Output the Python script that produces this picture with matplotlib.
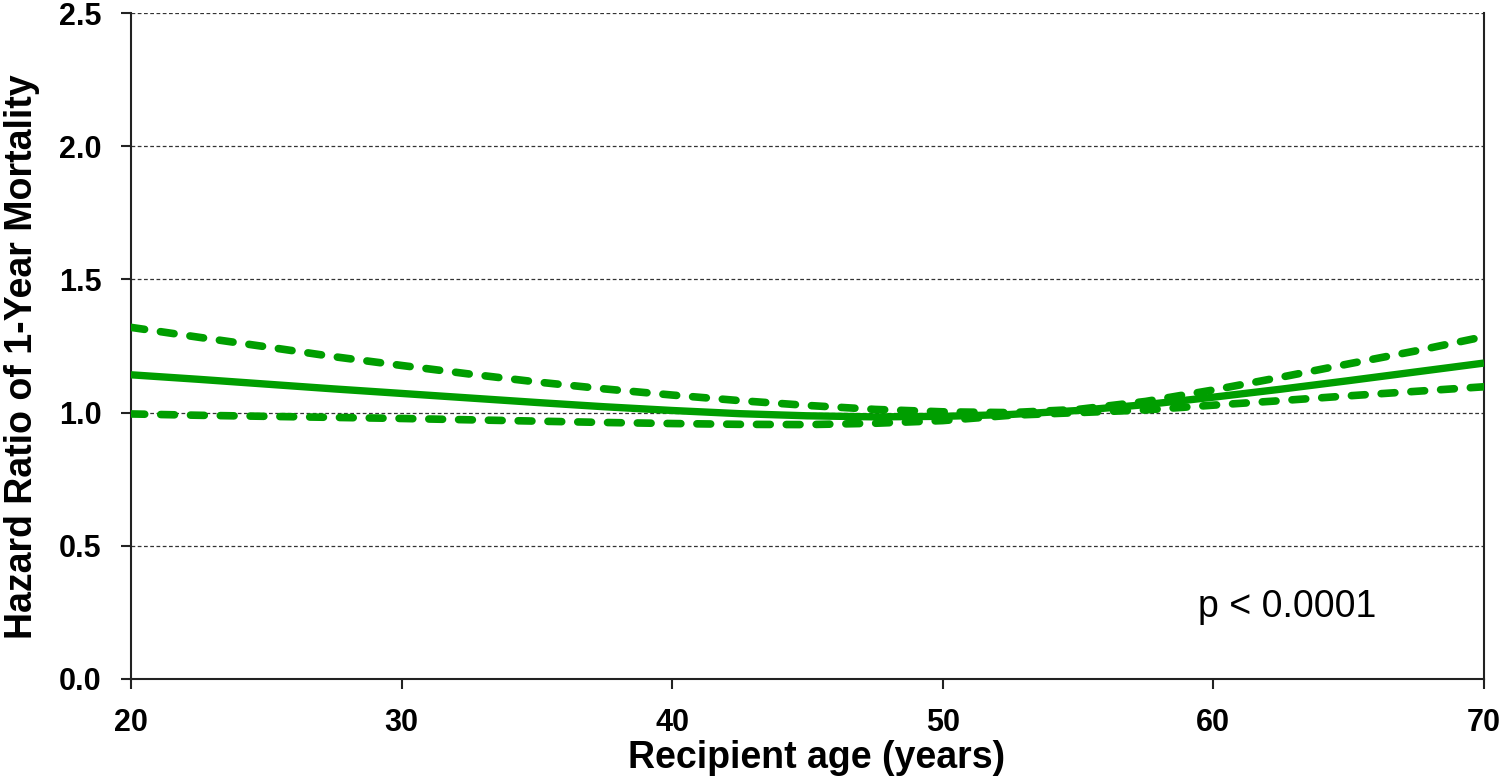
import matplotlib
matplotlib.use("Agg")
import matplotlib.pyplot as plt

ages = [20, 22.5, 25, 27.5, 30, 32.5, 35, 37.5, 40, 42.5, 45, 47.5, 50,
        52.5, 55, 57.5, 60, 62.5, 65, 67.5, 70]
hr = [1.142, 1.125, 1.107, 1.089, 1.072, 1.055, 1.038, 1.022, 1.008, 0.996,
      0.988, 0.984, 0.986, 0.993, 1.008, 1.030, 1.058, 1.088, 1.120, 1.153, 1.186]
hr_upper = [1.320, 1.283, 1.247, 1.210, 1.177, 1.145, 1.115, 1.089, 1.066, 1.045,
            1.027, 1.012, 1.003, 1.000, 1.012, 1.042, 1.085, 1.133, 1.183, 1.232, 1.285]
hr_lower = [0.995, 0.990, 0.986, 0.982, 0.978, 0.973, 0.968, 0.963, 0.959, 0.956,
            0.955, 0.960, 0.970, 0.990, 1.000, 1.010, 1.028, 1.045, 1.063, 1.080, 1.097]
xticks = [20, 30, 40, 50, 60, 70]
yticks = [0.0, 0.5, 1.0, 1.5, 2.0, 2.5]

plt.rcParams['font.family'] = ['Liberation Sans', 'DejaVu Sans']

fig = plt.figure(figsize=(15, 7.76), dpi=100)
ax = fig.add_axes([0.0873, 0.125, 0.9020, 0.8582])

green = '#009E00'
for yv in yticks[1:]:
    ax.axhline(yv, color='#333333', lw=0.9, ls=(0, (3, 2)), zorder=1)

ax.plot(ages, hr, color=green, lw=5.3, solid_capstyle='butt', zorder=3)
for s in (hr_upper, hr_lower):
    ax.plot(ages, s, color=green, lw=5.5, dashes=(1.8, 2.1),
            dash_capstyle='round', zorder=3)

ax.set_xlim(20, 70)
ax.set_ylim(0, 2.5)
ax.set_xticks(xticks)
ax.set_yticks(yticks)
ax.set_xticklabels([str(v) for v in xticks])
ax.set_yticklabels([f"{v:.1f}" for v in yticks])
ax.tick_params(axis='both', direction='out', length=7, width=1.5, colors='#222222',
               labelsize=22, labelcolor='black')
ax.tick_params(axis='x', pad=14)
ax.tick_params(axis='y', pad=14)
for lbl in ax.get_xticklabels() + ax.get_yticklabels():
    lbl.set_fontweight('bold')

ax.spines['top'].set_visible(False)
for sp in ('left', 'bottom', 'right'):
    ax.spines[sp].set_linewidth(1.5)
    ax.spines[sp].set_color('#222222')

ax.set_xlabel('Recipient age (years)', fontsize=27, fontweight='bold', labelpad=1)
ax.set_ylabel('Hazard Ratio of 1-Year Mortality', fontsize=27, fontweight='bold', labelpad=14)
ax.xaxis.label.set_x(0.5067)
ax.yaxis.label.set_y(0.4835)

ax.text(59.43, 0.233, 'p < 0.0001', fontsize=27, ha='left', va='baseline')

fig.savefig('out.png', dpi=100)
